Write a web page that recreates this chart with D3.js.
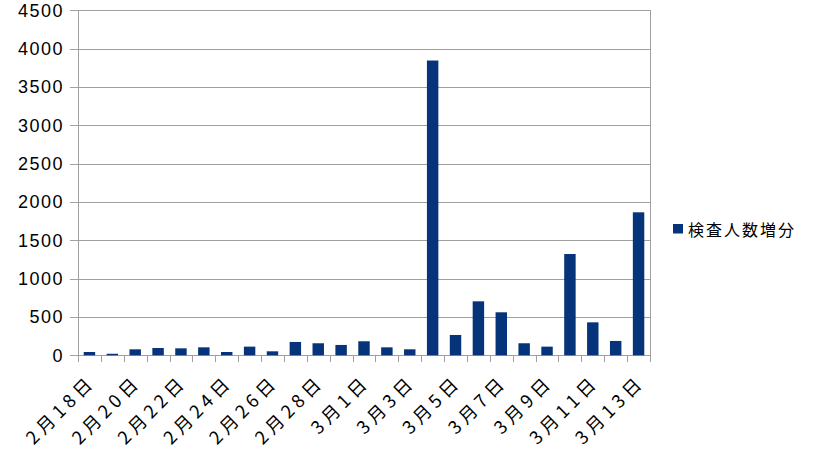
<!DOCTYPE html>
<html><head><meta charset="utf-8">
<script src="https://cdn.jsdelivr.net/npm/d3@7"></script>
<style>body{margin:0;background:#fff}svg{display:block}</style>
</head><body>
<svg id="c" width="813" height="457"></svg>
<script>
const categories = ["2月18日","2月19日","2月20日","2月21日","2月22日","2月23日","2月24日","2月25日","2月26日","2月27日","2月28日","2月29日","3月1日","3月2日","3月3日","3月4日","3月5日","3月6日","3月7日","3月8日","3月9日","3月10日","3月11日","3月12日","3月13日"];
const values = [43,20,78,95,91,104,43,113,52,174,157,135,183,104,78,3845,265,704,561,157,113,1321,430,187,1865];
const yTicks = [0,500,1000,1500,2000,2500,3000,3500,4000,4500];
const seriesName = "検査人数増分";

const svg = d3.select("#c");
const L = 78, R = 650, T = 10.3, B = 355.3;
const x = d3.scaleBand().domain(categories).range([L, R]).paddingInner(0.5).paddingOuter(0.25);
const xb = d3.scaleBand().domain(categories).range([L, R]);
const y = d3.scaleLinear().domain([0, 4500]).range([B, T]);
const grid = "#a0a0a0";

// gridlines
svg.append("g").selectAll("line").data(yTicks).join("line")
  .attr("x1", L - 8).attr("x2", R)
  .attr("y1", d => Math.round(y(d)) + 0.5).attr("y2", d => Math.round(y(d)) + 0.5)
  .attr("stroke", grid).attr("stroke-width", 1);
// left and right border
svg.append("line").attr("x1", L + 0.5).attr("x2", L + 0.5).attr("y1", Math.round(T)).attr("y2", Math.round(B) + 7)
  .attr("stroke", grid);
svg.append("line").attr("x1", R + 0.5).attr("x2", R + 0.5).attr("y1", Math.round(T)).attr("y2", Math.round(B) + 7)
  .attr("stroke", grid);
// x ticks at band boundaries
svg.append("g").selectAll("line").data(categories.slice(1)).join("line")
  .attr("x1", d => Math.round(xb(d)) + 0.5).attr("x2", d => Math.round(xb(d)) + 0.5)
  .attr("y1", Math.round(B)).attr("y2", Math.round(B) + 7).attr("stroke", grid);

// y labels
svg.append("g").selectAll("text").data(yTicks).join("text")
  .attr("x", 64).attr("y", d => y(d)).attr("dy", "0.36em")
  .attr("text-anchor", "end")
  .style("font-family", "Liberation Sans, Arial, sans-serif").style("font-size", "18px")
  .style("letter-spacing", "1.5px").attr("fill", "#000")
  .text(d => d);

// bars
svg.append("g").selectAll("rect").data(values).join("rect")
  .attr("x", (d, i) => x(categories[i])).attr("width", x.bandwidth())
  .attr("y", d => y(d)).attr("height", d => B - y(d))
  .attr("fill", "#05347a");

// x labels
svg.append("g").selectAll("text").data(categories.filter((d, i) => i % 2 === 0)).join("text")
  .attr("transform", d => `translate(${xb(d) + xb.bandwidth() / 2 + 7},383) rotate(-45)`)
  .attr("text-anchor", "end")
  .style("font-family", "Noto Sans CJK JP, sans-serif").style("font-size", "18px")
  .style("letter-spacing", "4.5px").attr("fill", "#000")
  .text(d => d);

// legend
svg.append("rect").attr("x", 673).attr("y", 224).attr("width", 10).attr("height", 9.5).attr("fill", "#05347a");
svg.append("text").attr("x", 688).attr("y", 236)
  .style("font-family", "Noto Sans CJK JP, sans-serif").style("font-size", "16px")
  .style("letter-spacing", "2px").attr("fill", "#000").text(seriesName);
</script>
</body></html>
